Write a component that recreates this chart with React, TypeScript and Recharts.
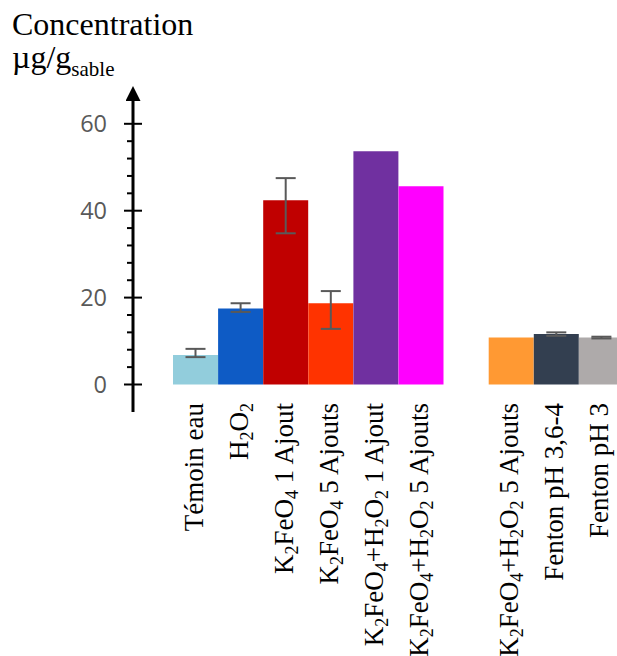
import React from 'react'
import { Bar, BarChart, Cell, ErrorBar, XAxis, YAxis } from 'recharts'

const categories = [
  'Témoin eau',
  'H₂O₂',
  'K₂FeO₄ 1 Ajout',
  'K₂FeO₄ 5 Ajouts',
  'K₂FeO₄+H₂O₂ 1 Ajout',
  'K₂FeO₄+H₂O₂ 5 Ajouts',
  '',
  'K₂FeO₄+H₂O₂ 5 Ajouts',
  'Fenton pH 3,6-4',
  'Fenton pH 3',
]
const values = [6.8, 17.5, 42.4, 18.7, 53.7, 45.6, null, 10.8, 11.6, 10.8]
const errMinus = [0.5, 0.8, 7.6, 5.9, null, null, null, null, 0.4, 0.2]
const errPlus = [1.4, 1.2, 5.1, 2.8, null, null, null, null, 0.4, 0.2]
const colors = [
  '#92cddc',
  '#0e5bc5',
  '#c00000',
  '#ff3300',
  '#7030a0',
  '#ff00ff',
  '#ffffff',
  '#ff9933',
  '#333f50',
  '#aeaaaa',
]
const majorTicks = [0, 20, 40, 60]
const allTicks = [0, 4, 8, 12, 16, 20, 24, 28, 32, 36, 40, 44, 48, 52, 56, 60]

const data = categories.map((name, i) => ({
  name,
  value: values[i],
  err: errMinus[i] == null ? undefined : [errMinus[i], errPlus[i]],
}))

const SERIF = '"Liberation Serif", "Times New Roman", serif'

const subMap: Record<string, string> = { '₂': '2', '₄': '4' }

function splitLabel(label: string) {
  const parts: { text: string; sub: boolean }[] = []
  for (const ch of label) {
    const sub = ch in subMap
    const t = sub ? subMap[ch] : ch
    const last = parts[parts.length - 1]
    if (last && last.sub === sub) last.text += t
    else parts.push({ text: t, sub })
  }
  return parts
}

const XTick = (props: any) => {
  const { x, y, payload } = props
  const parts = splitLabel(payload.value || '')
  let shift = 0
  return (
    <g transform={`translate(${x + 7},${y - 9}) rotate(-90)`}>
      <text textAnchor="end" fontFamily={SERIF} fontSize={27} fill="#000">
        {parts.map((p, i) => {
          const target = p.sub ? 5 : 0
          const dy = target - shift
          shift = target
          return (
            <tspan key={i} dy={dy} fontSize={p.sub ? 18 : 27}>
              {p.text}
            </tspan>
          )
        })}
      </text>
    </g>
  )
}

const YTick = (props: any) => {
  const { x, y, payload } = props
  const major = majorTicks.includes(payload.value)
  return (
    <g>
      {major ? (
        <line x1={x - 9} x2={x + 9} y1={y} y2={y} stroke="#000" strokeWidth={2} />
      ) : (
        <line x1={x - 6} x2={x + 1} y1={y} y2={y} stroke="#000" strokeWidth={2} />
      )}
      {major && (
        <text
          x={x - 26}
          y={y}
          dy="0.36em"
          textAnchor="end"
          fontFamily='"Open Sans", sans-serif'
          fontSize={23.5}
          fill="#595959"
        >
          {payload.value}
        </text>
      )}
    </g>
  )
}

export default function App() {
  return (
    <div
      style={{
        position: 'absolute',
        left: 0,
        top: 0,
        width: 617,
        height: 656,
        overflow: 'hidden',
        background: '#fff',
      }}
    >
      <svg
        width={617}
        height={100}
        style={{ position: 'absolute', left: 0, top: 0 }}
      >
        <defs>
          <marker
            id="arrowUp"
            markerUnits="userSpaceOnUse"
            markerWidth={16}
            markerHeight={16}
            refX={11}
            refY={7.5}
            orient="auto-start-reverse"
          >
            <path d="M0,0 L15,7.5 L0,15 z" fill="#000" />
          </marker>
        </defs>
        <text x={12} y={35} fontFamily={SERIF} fontSize={32} fill="#000">
          Concentration
        </text>
        <text x={12} y={68} fontFamily={SERIF} fontSize={32} fill="#000">
          µg/g
          <tspan fontSize={21} dy={8}>
            sable
          </tspan>
        </text>
      </svg>
      <div style={{ position: 'absolute', left: 0, top: 0 }}>
        <BarChart
          width={624}
          height={656}
          data={data}
          barCategoryGap={0}
          margin={{ top: 90, right: 0, bottom: 0, left: 0 }}
        >
          <XAxis
            dataKey="name"
            type="category"
            interval={0}
            padding={{ left: 40, right: 0 }}
            axisLine={false}
            tickLine={false}
            tickSize={0}
            tickMargin={0}
            height={244}
            tick={<XTick />}
          />
          <YAxis
            type="number"
            domain={[-6.33, 67.78]}
            ticks={allTicks}
            interval={0}
            width={133}
            tickLine={false}
            tickSize={0}
            tickMargin={0}
            axisLine={{ stroke: '#000', strokeWidth: 3, markerStart: 'url(#arrowUp)' }}
            tick={<YTick />}
          />
          <Bar dataKey="value" isAnimationActive={false}>
            {data.map((d, i) => (
              <Cell key={i} fill={colors[i]} />
            ))}
            <ErrorBar
              dataKey="err"
              width={10}
              stroke="#595959"
              strokeWidth={2}
              direction="y"
            />
          </Bar>
        </BarChart>
      </div>
    </div>
  )
}
